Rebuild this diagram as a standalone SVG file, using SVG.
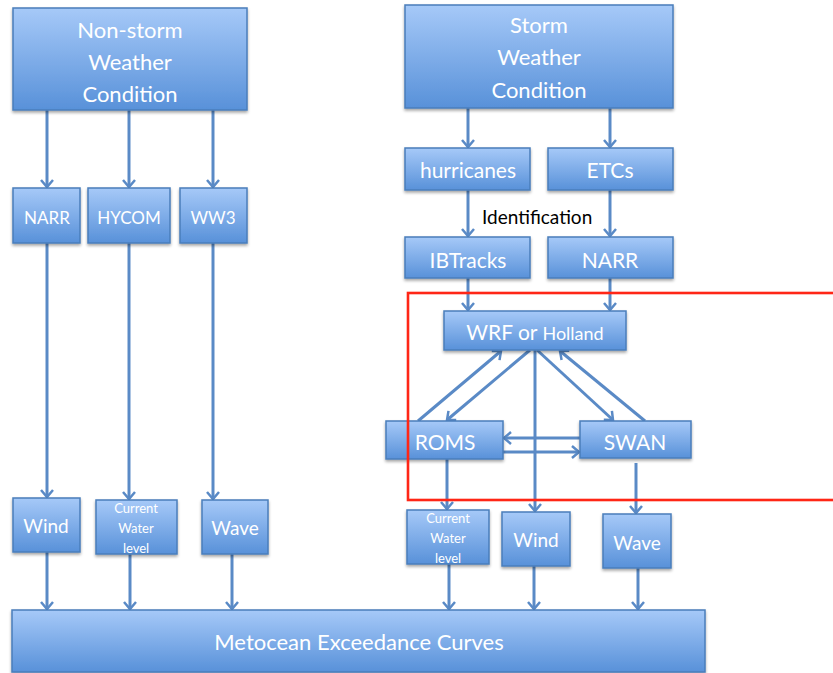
<svg xmlns="http://www.w3.org/2000/svg" width="833" height="673" viewBox="0 0 833 673">
  <defs>
    <linearGradient id="boxFill" x1="0" y1="0" x2="0" y2="1">
      <stop offset="0" stop-color="#a6c9f8"/>
      <stop offset="1" stop-color="#5891d9"/>
    </linearGradient>
    <filter id="shadow" x="-10%" y="-10%" width="120%" height="130%">
      <feDropShadow dx="0" dy="2" stdDeviation="1.5" flood-color="#000" flood-opacity="0.35"/>
    </filter>
    <marker id="arrow" markerUnits="userSpaceOnUse" markerWidth="16" markerHeight="16" viewBox="-10 -8 12 16" refX="0" refY="0" orient="auto">
      <path d="M-7,-6 L0,0 L-7,6" fill="none" stroke="#5a8ac6" stroke-width="2.5" stroke-linejoin="miter"/>
    </marker>
  </defs>
  <style>
    .box { fill: url(#boxFill); stroke: #4a7ebb; stroke-width: 1.5; filter: url(#shadow); }
    .lbl { fill: #ffffff; font-family: Lato, "Open Sans", "Liberation Sans", sans-serif; text-anchor: middle; }
    .edge { stroke: #5a8ac6; stroke-width: 3; fill: none; marker-end: url(#arrow); }
    .note { fill: #000000; font-family: Lato, "Open Sans", "Liberation Sans", sans-serif; font-size: 19px; }
  </style>
  <rect width="833" height="673" fill="#ffffff"/>

  <!-- connectors -->
  <g id="connectors">
    <line class="edge" x1="47" y1="110" x2="47" y2="187"/>
    <line class="edge" x1="129" y1="110" x2="129" y2="187"/>
    <line class="edge" x1="213" y1="110" x2="213" y2="187"/>
    <line class="edge" x1="47" y1="243" x2="47" y2="497"/>
    <line class="edge" x1="129" y1="243" x2="129" y2="499"/>
    <line class="edge" x1="213" y1="243" x2="213" y2="499"/>
    <line class="edge" x1="47" y1="552" x2="47" y2="609"/>
    <line class="edge" x1="130" y1="554" x2="130" y2="609"/>
    <line class="edge" x1="232" y1="554" x2="232" y2="609"/>

    <line class="edge" x1="468" y1="108" x2="468" y2="147"/>
    <line class="edge" x1="610" y1="108" x2="610" y2="147"/>
    <line class="edge" x1="468" y1="190" x2="468" y2="236"/>
    <line class="edge" x1="610" y1="190" x2="610" y2="236"/>
    <line class="edge" x1="468" y1="278" x2="468" y2="310"/>
    <line class="edge" x1="610" y1="278" x2="610" y2="310"/>

    <line class="edge" x1="418" y1="421" x2="501" y2="351"/>
    <line class="edge" x1="530" y1="350" x2="447" y2="420"/>
    <line class="edge" x1="537" y1="350" x2="613" y2="420"/>
    <line class="edge" x1="645" y1="421" x2="560" y2="351"/>
    <line class="edge" x1="535" y1="350" x2="535" y2="511"/>
    <line class="edge" x1="580" y1="438" x2="504" y2="438"/>
    <line class="edge" x1="503" y1="452" x2="579" y2="452"/>
    <line class="edge" x1="447" y1="459" x2="447" y2="509"/>
    <line class="edge" x1="636" y1="463" x2="636" y2="513"/>

    <line class="edge" x1="449" y1="564" x2="449" y2="609"/>
    <line class="edge" x1="534" y1="566" x2="534" y2="609"/>
    <line class="edge" x1="638" y1="568" x2="638" y2="609"/>
  </g>

  <!-- non-storm branch -->
  <g id="nonstorm">
    <rect class="box" x="13" y="8" width="234" height="102"/>
    <text class="lbl" font-size="22" x="130" y="38">Non-storm</text>
    <text class="lbl" font-size="22" x="130" y="70">Weather</text>
    <text class="lbl" font-size="22" x="130" y="102">Condition</text>
  </g>
  <g id="narr-left">
    <rect class="box" x="13" y="188" width="67" height="55"/>
    <text class="lbl" font-size="17" x="47" y="224">NARR</text>
  </g>
  <g id="hycom">
    <rect class="box" x="88" y="188" width="82" height="55"/>
    <text class="lbl" font-size="17" x="129" y="224">HYCOM</text>
  </g>
  <g id="ww3">
    <rect class="box" x="180" y="188" width="67" height="55"/>
    <text class="lbl" font-size="17" x="213" y="224">WW3</text>
  </g>
  <g id="wind-left">
    <rect class="box" x="13" y="498" width="67" height="54"/>
    <text class="lbl" font-size="19" x="46" y="533">Wind</text>
  </g>
  <g id="water-left">
    <rect class="box" x="96" y="500" width="81" height="54"/>
    <text class="lbl" font-size="13" x="136" y="513">Current</text>
    <text class="lbl" font-size="13" x="136" y="533">Water</text>
    <text class="lbl" font-size="13" x="136" y="553">level</text>
  </g>
  <g id="wave-left">
    <rect class="box" x="202" y="500" width="66" height="54"/>
    <text class="lbl" font-size="19" x="235" y="535">Wave</text>
  </g>

  <!-- storm branch -->
  <g id="storm">
    <rect class="box" x="405" y="5" width="268" height="103"/>
    <text class="lbl" font-size="22" x="539" y="33">Storm</text>
    <text class="lbl" font-size="22" x="539" y="65">Weather</text>
    <text class="lbl" font-size="22" x="539" y="98">Condition</text>
  </g>
  <g id="hurricanes">
    <rect class="box" x="405" y="148" width="125" height="42"/>
    <text class="lbl" font-size="21" x="468" y="178">hurricanes</text>
  </g>
  <g id="etcs">
    <rect class="box" x="548" y="148" width="125" height="42"/>
    <text class="lbl" font-size="21" x="610" y="178">ETCs</text>
  </g>
  <text class="note" x="482" y="224">Identification</text>
  <g id="ibtracks">
    <rect class="box" x="405" y="237" width="125" height="41"/>
    <text class="lbl" font-size="21" x="468" y="268">IBTracks</text>
  </g>
  <g id="narr-right">
    <rect class="box" x="548" y="237" width="125" height="41"/>
    <text class="lbl" font-size="21" x="610" y="268">NARR</text>
  </g>
  <g id="wrf">
    <rect class="box" x="444" y="311" width="182" height="39"/>
    <text class="lbl" x="535" y="340"><tspan font-size="21">WRF or </tspan><tspan font-size="18">Holland</tspan></text>
  </g>
  <g id="roms">
    <rect class="box" x="386" y="421" width="117" height="38"/>
    <text class="lbl" font-size="21" x="445" y="450">ROMS</text>
  </g>
  <g id="swan">
    <rect class="box" x="580" y="421" width="111" height="37"/>
    <text class="lbl" font-size="21" x="635" y="450">SWAN</text>
  </g>
  <g id="water-right">
    <rect class="box" x="407" y="510" width="82" height="54"/>
    <text class="lbl" font-size="13" x="448" y="523">Current</text>
    <text class="lbl" font-size="13" x="448" y="543">Water</text>
    <text class="lbl" font-size="13" x="448" y="563">level</text>
  </g>
  <g id="wind-right">
    <rect class="box" x="502" y="512" width="68" height="54"/>
    <text class="lbl" font-size="19" x="536" y="547">Wind</text>
  </g>
  <g id="wave-right">
    <rect class="box" x="603" y="514" width="68" height="54"/>
    <text class="lbl" font-size="19" x="637" y="550">Wave</text>
  </g>

  <!-- shared output -->
  <g id="metocean">
    <rect class="box" x="12" y="610" width="693" height="62"/>
    <text class="lbl" font-size="22" x="359" y="650">Metocean Exceedance Curves</text>
  </g>

  <!-- coupled-model frame -->
  <rect x="408" y="293" width="440" height="207" fill="none" stroke="#ff2616" stroke-width="2.6"/>
</svg>
